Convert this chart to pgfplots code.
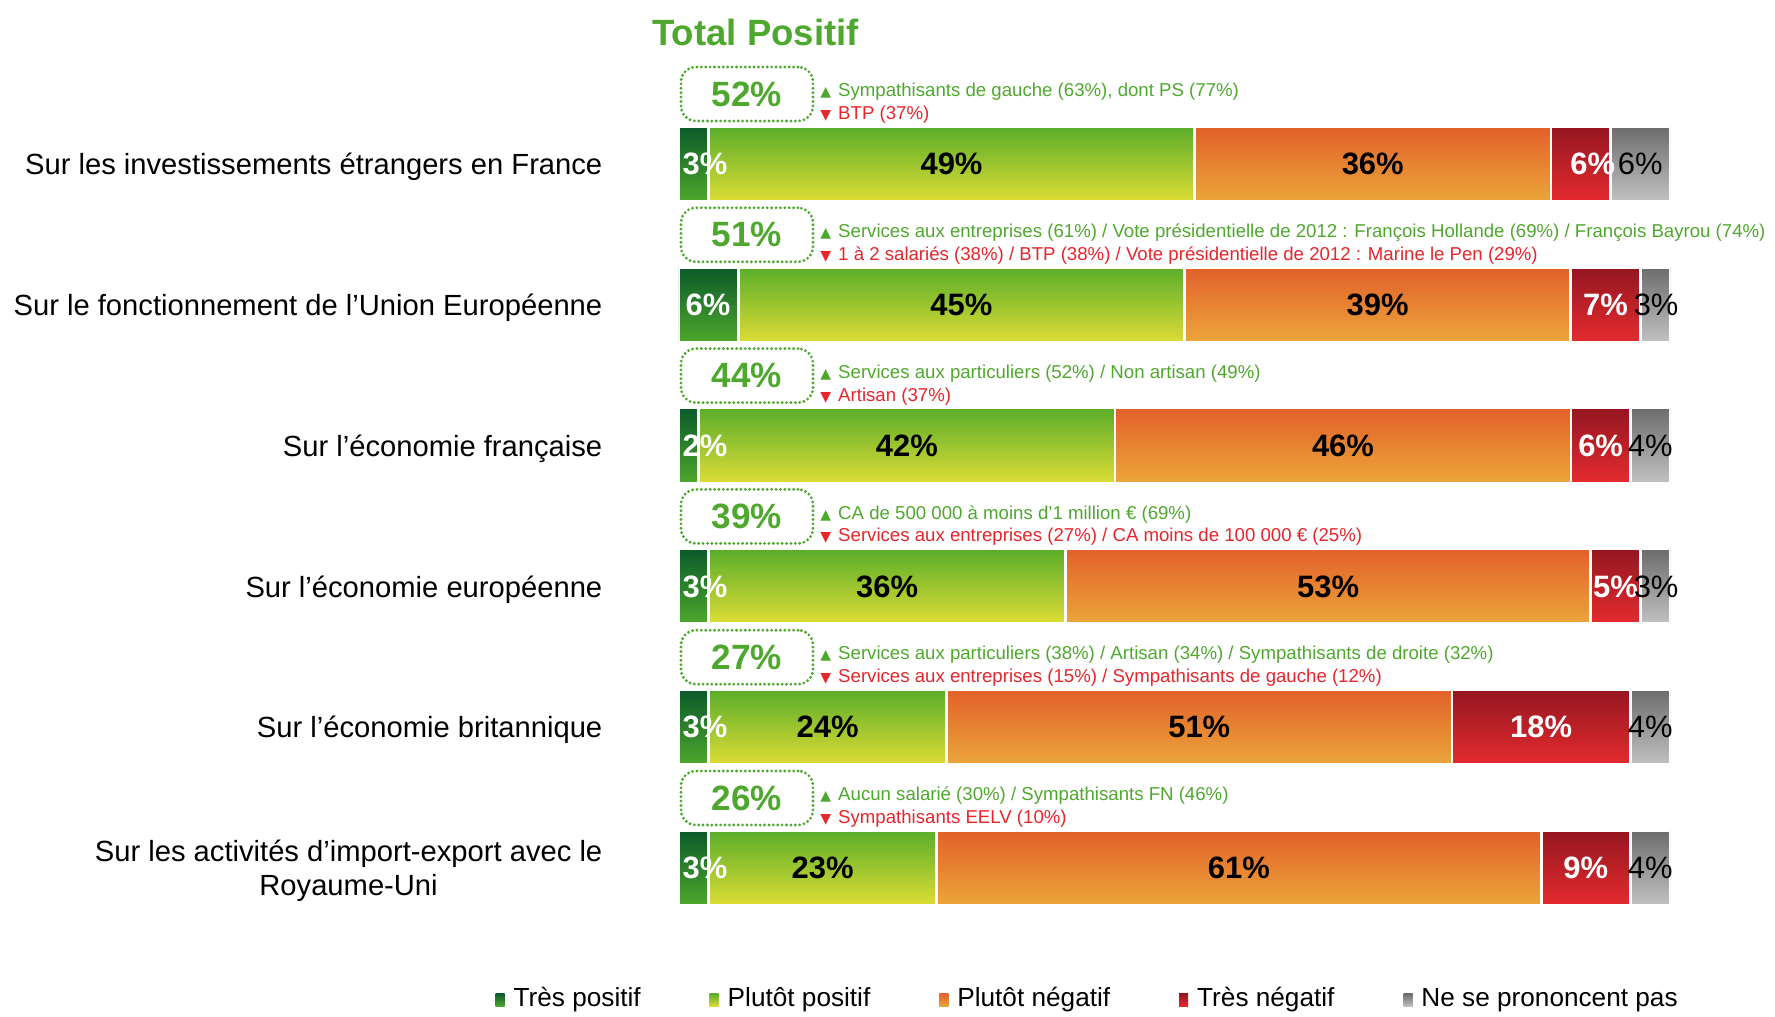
\documentclass[border=0pt]{standalone}
\usepackage{pgfplots}
\pgfplotsset{compat=1.18}
\usepackage{fontspec}
\setmainfont{Liberation Sans}
\newfontfamily\symfont{DejaVu Sans}
\definecolor{tpA}{HTML}{0B5A2A}
\definecolor{tpB}{HTML}{4EA82C}
\definecolor{ppA}{HTML}{5AAD2A}
\definecolor{ppB}{HTML}{DEDD35}
\definecolor{pnA}{HTML}{E2602A}
\definecolor{pnB}{HTML}{ECA63A}
\definecolor{tnA}{HTML}{941620}
\definecolor{tnB}{HTML}{E52B2F}
\definecolor{nsA}{HTML}{6C6C6C}
\definecolor{nsB}{HTML}{C2C2C2}
\definecolor{txtgreen}{HTML}{4FA82E}
\definecolor{txtred}{HTML}{E5262B}
\newcommand{\catfont}{\fontsize{8.3}{9.7}\selectfont}
\newcommand{\barfont}{\fontsize{8.8}{10}\selectfont\bfseries}
\newcommand{\nsfont}{\fontsize{8.8}{10}\selectfont}
\newcommand{\annfont}{\fontsize{5.3}{6.3}\selectfont}
\newcommand{\up}{{\color{txtgreen}\fontsize{4}{4}\selectfont\symfont ▲}\hspace{0.07cm}}
\newcommand{\down}{{\color{txtred}\fontsize{4}{4}\selectfont\symfont ▼}\hspace{0.07cm}}
\pgfplotsset{
  rowstyle/.style={
    anchor=south west,
    scale only axis, width=9.91cm, height=1.408cm,
    xmin=0, xmax=100, ymin=-0.5, ymax=0.5,
    xbar stacked, bar width=0.75cm,
    hide x axis,
    axis y line*=left, y axis line style={draw=none},
    ytick={0}, ytick style={draw=none},
    yticklabel style={align=center, inner sep=0pt, xshift=-0.76cm, yshift=-0.03cm, font=\catfont},
    legend image code/.code={\path[##1, draw=none] (0cm,-0.065cm) rectangle (0.09cm,0.065cm);},
  },
  tp/.style={draw=white, line width=0.8pt, top color=tpA, bottom color=tpB},
  pp/.style={draw=white, line width=0.8pt, top color=ppA, bottom color=ppB},
  pn/.style={draw=white, line width=0.8pt, top color=pnA, bottom color=pnB},
  tn/.style={draw=white, line width=0.8pt, top color=tnA, bottom color=tnB},
  ns/.style={draw=white, line width=0.8pt, top color=nsA, bottom color=nsB},
}
% #1 bottom of row (cm), #2 category, #3..#7 values, #8 extra options
\newcommand{\rowbar}[8]{%
\begin{axis}[rowstyle, at={(6.79cm,#1)}, yticklabels={{#2}}, #8]
\addplot[tp] coordinates {(#3,0)};
\addplot[pp] coordinates {(#4,0)};
\addplot[pn] coordinates {(#5,0)};
\addplot[tn] coordinates {(#6,0)};
\addplot[ns] coordinates {(#7,0)};
\end{axis}}
\begin{document}
\begin{tikzpicture}
\rowbar{7.826cm}{Sur les investissements étrangers en France}{3}{49}{36}{6}{6}{}
\rowbar{6.418cm}{Sur le fonctionnement de l’Union Européenne}{6}{45}{39}{7}{3}{}
\rowbar{5.010cm}{Sur l’économie française}{2}{42}{46}{6}{4}{}
\rowbar{3.602cm}{Sur l’économie européenne}{3}{36}{53}{5}{3}{}
\rowbar{2.194cm}{Sur l’économie britannique}{3}{24}{51}{18}{4}{}
\rowbar{0.786cm}{Sur les activités d’import-export avec le\\Royaume-Uni}{3}{23}{61}{9}{4}{legend columns=5,
  legend style={at={(-0.1857,-0.4375)}, anchor=west, draw=none, inner sep=0pt,
    font=\fontsize{7.45}{8}\selectfont, nodes={inner sep=0pt},
    /tikz/every even column/.append style={column sep=0.69cm},
    /tikz/every odd column/.append style={column sep=0.09cm}},
  legend entries={Très positif, Plutôt positif, Plutôt négatif, Très négatif, Ne se prononcent pas}}

\begin{axis}[
  at={(6.79cm,0.786cm)}, anchor=south west,
  scale only axis, width=9.91cm, height=8.448cm,
  xmin=0, xmax=100, ymin=-0.5, ymax=5.5,
  hide axis, clip=false,
  point meta=explicit symbolic,
  nodes near coords={\pgfplotspointmeta\%},
]
% Tres positif (white, left aligned)
\addplot[draw=none, mark=none, every node near coord/.style={anchor=west, inner sep=0pt, text=white, font=\barfont}]
  coordinates {(0.3,5)[3] (0.6,4)[6] (0.3,3)[2] (0.3,2)[3] (0.3,1)[3] (0.3,0)[3]};
% Plutot positif
\addplot[draw=none, mark=none, every node near coord/.style={anchor=center, inner sep=0pt, text=black, font=\barfont}]
  coordinates {(27.5,5)[49] (28.5,4)[45] (23,3)[42] (21,2)[36] (15,1)[24] (14.5,0)[23]};
% Plutot negatif
\addplot[draw=none, mark=none, every node near coord/.style={anchor=center, inner sep=0pt, text=black, font=\barfont}]
  coordinates {(70,5)[36] (70.5,4)[39] (67,3)[46] (65.5,2)[53] (52.5,1)[51] (56.5,0)[61]};
% Tres negatif
\addplot[draw=none, mark=none, every node near coord/.style={anchor=center, inner sep=0pt, text=white, font=\barfont}]
  coordinates {(92.2,5)[6] (93.5,4)[7] (93,3)[6] (94.5,2)[5] (87,1)[18] (91.5,0)[9]};
% NSP
\addplot[draw=none, mark=none, every node near coord/.style={anchor=center, inner sep=0pt, text=black, font=\nsfont}]
  coordinates {(97,5)[6] (98.6,4)[3] (98,3)[4] (98.6,2)[3] (98,1)[4] (98,0)[4]};
% Total positif boxes
\addplot[draw=none, mark=none, every node near coord/.style={anchor=center, draw=txtgreen, line width=0.9pt, dash pattern=on 0pt off 1.25pt, line cap=round, rounded corners=1.5mm, minimum width=1.32cm, minimum height=0.54cm, inner sep=0pt, text=txtgreen, font=\fontsize{10}{11}\selectfont\bfseries}]
  coordinates {(6.86,5.497)[52] (6.86,4.497)[51] (6.86,3.497)[44] (6.86,2.497)[39] (6.86,1.497)[27] (6.86,0.497)[26]};

\node[anchor=west, inner sep=0pt, font=\annfont, text=txtgreen] at (axis cs:14.2,5.513) {\up Sympathisants de gauche (63\%), dont PS (77\%)};
\node[anchor=west, inner sep=0pt, font=\annfont, text=txtred] at (axis cs:14.2,5.350) {\down BTP (37\%)};
\node[anchor=west, inner sep=0pt, font=\annfont, text=txtgreen] at (axis cs:14.2,4.513) {\up Services aux entreprises (61\%) / Vote présidentielle de 2012 : François Hollande (69\%) / François Bayrou (74\%)};
\node[anchor=west, inner sep=0pt, font=\annfont, text=txtred] at (axis cs:14.2,4.350) {\down 1 à 2 salariés (38\%) / BTP (38\%) / Vote présidentielle de 2012 : Marine le Pen (29\%)};
\node[anchor=west, inner sep=0pt, font=\annfont, text=txtgreen] at (axis cs:14.2,3.513) {\up Services aux particuliers (52\%) / Non artisan (49\%)};
\node[anchor=west, inner sep=0pt, font=\annfont, text=txtred] at (axis cs:14.2,3.350) {\down Artisan (37\%)};
\node[anchor=west, inner sep=0pt, font=\annfont, text=txtgreen] at (axis cs:14.2,2.513) {\up CA de 500 000 à moins d’1 million € (69\%)};
\node[anchor=west, inner sep=0pt, font=\annfont, text=txtred] at (axis cs:14.2,2.350) {\down Services aux entreprises (27\%) / CA moins de 100 000 € (25\%)};
\node[anchor=west, inner sep=0pt, font=\annfont, text=txtgreen] at (axis cs:14.2,1.513) {\up Services aux particuliers (38\%) / Artisan (34\%) / Sympathisants de droite (32\%)};
\node[anchor=west, inner sep=0pt, font=\annfont, text=txtred] at (axis cs:14.2,1.350) {\down Services aux entreprises (15\%) / Sympathisants de gauche (12\%)};
\node[anchor=west, inner sep=0pt, font=\annfont, text=txtgreen] at (axis cs:14.2,0.513) {\up Aucun salarié (30\%) / Sympathisants FN (46\%)};
\node[anchor=west, inner sep=0pt, font=\annfont, text=txtred] at (axis cs:14.2,0.350) {\down Sympathisants EELV (10\%)};
\end{axis}

\node[inner sep=0pt, text=txtgreen, font=\fontsize{10.4}{12}\selectfont\bfseries] at (7.555cm,9.85cm) {Total Positif};

\pgfresetboundingbox
\useasboundingbox (0,0) rectangle (17.75cm,10.17cm);
\end{tikzpicture}
\end{document}
